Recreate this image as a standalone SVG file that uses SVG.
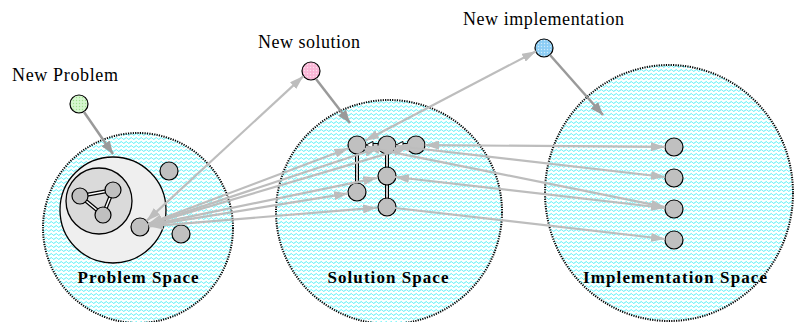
<svg xmlns="http://www.w3.org/2000/svg" width="795" height="322" viewBox="0 0 795 322">
<defs>
<pattern id="wave" width="5" height="4" patternUnits="userSpaceOnUse">
<rect width="5" height="4" fill="#ffffff"/>
<path d="M0,2.5 Q1.25,0.6 2.5,2.5 T5,2.5" fill="none" stroke="#3ceef6" stroke-width="0.9"/>
</pattern>
<pattern id="dotG" width="3" height="3" patternUnits="userSpaceOnUse">
<rect width="3" height="3" fill="#d6f7cf"/><circle cx="1.5" cy="1.5" r="0.7" fill="#9fe08f"/>
</pattern>
<pattern id="dotP" width="3" height="3" patternUnits="userSpaceOnUse">
<rect width="3" height="3" fill="#f9b6d6"/><circle cx="1.5" cy="1.5" r="0.7" fill="#fbe2ee"/>
</pattern>
<pattern id="dotB" width="3" height="3" patternUnits="userSpaceOnUse">
<rect width="3" height="3" fill="#8ccdf5"/><circle cx="1.5" cy="1.5" r="0.7" fill="#d3ecfb"/>
</pattern>
<marker id="ah" viewBox="0 0 14 9" refX="14" refY="4.5" markerWidth="14" markerHeight="9" markerUnits="userSpaceOnUse" orient="auto-start-reverse">
<path d="M0,0 L14,4.5 L0,9 z" fill="#bdbdbd"/>
</marker>
<marker id="dh" viewBox="0 0 13 10" refX="13" refY="5" markerWidth="13" markerHeight="10" markerUnits="userSpaceOnUse" orient="auto">
<path d="M0,0 L13,5 L0,10 z" fill="#9a9a9a"/>
</marker>
<style>
.space{fill:url(#wave);stroke:#000;stroke-width:2;stroke-dasharray:1.2 1.2}
.node{fill:#c0c0c0;stroke:#000;stroke-width:1.2}
.lbl{font-family:"Liberation Serif",serif;font-size:18px;fill:#000}
.slbl{font-family:"Liberation Serif",serif;font-size:17px;font-weight:bold;fill:#000}
.lg{stroke:#bdbdbd;stroke-width:2.2;fill:none;marker-end:url(#ah)}
.bi{marker-start:url(#ah)}
.dk{stroke:#9a9a9a;stroke-width:2.5;fill:none;marker-end:url(#dh)}
.dbo{stroke:#000;stroke-width:4;fill:none}
.dbi{stroke:#ffffff;stroke-width:1.6;fill:none}
</style>
</defs>

<g id="problem-space">
<ellipse class="space" cx="138" cy="228" rx="95" ry="95"/>
<circle cx="113" cy="210" r="53" fill="#efefef" stroke="#000" stroke-width="1.3"/>
<circle cx="99" cy="201" r="33" fill="#dadada" stroke="#000" stroke-width="1.3"/>
<line class="dbo" x1="80" y1="196" x2="113" y2="190"/><line class="dbi" x1="80" y1="196" x2="113" y2="190"/>
<line class="dbo" x1="80" y1="196" x2="103" y2="215"/><line class="dbi" x1="80" y1="196" x2="103" y2="215"/>
<line class="dbo" x1="113" y1="190" x2="103" y2="215"/><line class="dbi" x1="113" y1="190" x2="103" y2="215"/>
<circle class="node" cx="80" cy="196" r="8"/>
<circle class="node" cx="113" cy="190" r="8"/>
<circle class="node" cx="103" cy="215" r="8"/>
<circle class="node" cx="169" cy="171" r="9"/>
<circle class="node" cx="140" cy="227" r="9"/>
<circle class="node" cx="181" cy="234" r="9"/>
<text class="slbl" x="138" y="283" text-anchor="middle" textLength="121" lengthAdjust="spacing">Problem Space</text>
</g>

<g id="solution-space">
<ellipse class="space" cx="389" cy="212" rx="113" ry="112"/>
<line class="dbo" x1="357" y1="153" x2="357" y2="184"/><line class="dbi" x1="357" y1="153" x2="357" y2="184"/>
<line class="dbo" x1="387" y1="153" x2="387" y2="168"/><line class="dbi" x1="387" y1="153" x2="387" y2="168"/>
<line class="dbo" x1="387" y1="184" x2="387" y2="199"/><line class="dbi" x1="387" y1="184" x2="387" y2="199"/>
<line class="dbo" x1="372" y1="145" x2="379" y2="145"/><line class="dbi" x1="372" y1="145" x2="379" y2="145"/>
<path d="M366,145 L373,141.5 L373,148.5 z" fill="#fff" stroke="#000" stroke-width="1"/>
<line class="dbo" x1="402" y1="145" x2="408" y2="145"/><line class="dbi" x1="402" y1="145" x2="408" y2="145"/>
<path d="M396,145 L403,141.5 L403,148.5 z" fill="#fff" stroke="#000" stroke-width="1"/>
<circle class="node" cx="357" cy="145" r="9"/>
<circle class="node" cx="387" cy="145" r="9"/>
<circle class="node" cx="416" cy="145" r="9"/>
<circle class="node" cx="387" cy="176" r="9"/>
<circle class="node" cx="357" cy="192" r="9"/>
<circle class="node" cx="387" cy="207" r="9"/>
<text class="slbl" x="388" y="283" text-anchor="middle" textLength="121" lengthAdjust="spacing">Solution Space</text>
</g>

<g id="implementation-space">
<ellipse class="space" cx="669" cy="193" rx="124" ry="128"/>
<circle class="node" cx="674" cy="147" r="9"/>
<circle class="node" cx="674" cy="178" r="9"/>
<circle class="node" cx="674" cy="209" r="9"/>
<circle class="node" cx="674" cy="240" r="9"/>
<text class="slbl" x="675" y="283" text-anchor="middle" textLength="184" lengthAdjust="spacing">Implementation Space</text>
</g>

<g id="new-problem">
<circle cx="79" cy="104" r="9" fill="url(#dotG)" stroke="#000" stroke-width="1.2"/>
<text class="lbl" x="12" y="81" textLength="106" lengthAdjust="spacing">New Problem</text>
</g>
<g id="new-solution">
<circle cx="311" cy="71" r="9" fill="url(#dotP)" stroke="#000" stroke-width="1.2"/>
<text class="lbl" x="258" y="48" textLength="102" lengthAdjust="spacing">New solution</text>
</g>
<g id="new-implementation">
<circle cx="544" cy="48" r="9" fill="url(#dotB)" stroke="#000" stroke-width="1.2"/>
<text class="lbl" x="463" y="25" textLength="161" lengthAdjust="spacing">New implementation</text>
</g>

<g id="connectors">
<line class="dk" x1="84" y1="112" x2="113" y2="154"/>
<line class="dk" x1="316" y1="79" x2="350" y2="123"/>
<line class="dk" x1="550" y1="55" x2="603" y2="115"/>

<line class="lg bi" x1="146.6" y1="220.9" x2="303.4" y2="76.1"/>
<line class="lg bi" x1="365" y1="140.8" x2="536" y2="51.2"/>

<line class="lg bi" x1="148.4" y1="223.8" x2="348.6" y2="148.2"/>
<line class="lg bi" x1="148.5" y1="224.2" x2="378.5" y2="147.8"/>
<line class="lg bi" x1="148.6" y1="224.4" x2="407.4" y2="147.6"/>
<line class="lg bi" x1="148.8" y1="225.2" x2="377.2" y2="177.8"/>
<line class="lg bi" x1="148.9" y1="225.6" x2="348.1" y2="193.4"/>
<line class="lg bi" x1="149" y1="226.3" x2="377" y2="207.7"/>

<line class="lg bi" x1="425" y1="145.1" x2="665" y2="146.9"/>
<line class="lg bi" x1="396" y1="146" x2="665" y2="177"/>
<line class="lg bi" x1="365.8" y1="146.8" x2="665.2" y2="207.2"/>
<line class="lg bi" x1="395" y1="177" x2="665" y2="208"/>
<line class="lg" x1="395" y1="208" x2="665" y2="239"/>
</g>
</svg>
